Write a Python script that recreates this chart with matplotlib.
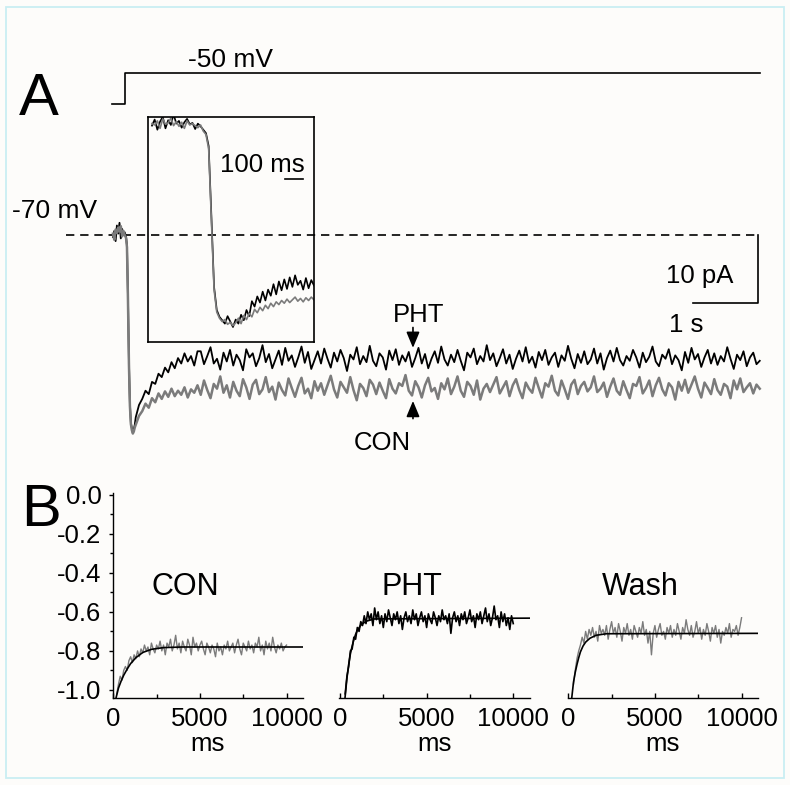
import numpy as np
import matplotlib
matplotlib.use('Agg')
import matplotlib.pyplot as plt
from matplotlib.patches import Rectangle
from matplotlib.ticker import MultipleLocator, FormatStrFormatter

plt.rcParams['font.family'] = ['Liberation Sans', 'DejaVu Sans']
plt.rcParams['axes.unicode_minus'] = False

W, H = 790, 785
BG = '#fdfcfa'
GRAY = '#7b7b7b'

# ======================= DATA =======================
# ---- Panel A: whole-cell current (pA) vs time (ms) ----
a_head_t = [0, 20, 40, 60, 80, 100, 120, 140, 160, 180, 200, 215, 230, 245, 260,
            275, 290, 305, 320, 335,
            350, 400, 450, 500, 550, 600, 650, 700, 750, 800,
            850, 900, 950, 1000, 1050, 1100, 1150, 1200, 1250, 1300]
a_tail_start, a_tail_step = 1350, 50

pht_head = [-0.3, 0.6, -0.9, 1.4, 0.2, 1.8, -0.5, 0.9, 0.1, 0.4, -0.2, -1.5, -9.0, -18.5, -24.8,
            -27.6, -28.4, -28.9, -28.6, -27.9,
            -26.8, -25.0, -24.1, -22.9, -23.4, -21.6, -21.9, -20.4, -20.9, -19.5,
            -20.2, -18.7, -19.6, -18.1, -18.9, -17.4, -18.6, -17.8, -19.2, -17.1]
pht_tail = [
    -17.1, -19.0, -17.8, -16.5, -18.9, -18.2, -19.8, -17.3, -18.6, -16.9,
    -19.2, -17.6, -18.4, -19.9, -16.8, -18.0, -17.4, -19.3, -18.1, -16.2,
    -18.7, -17.5, -19.6, -18.3, -17.0, -19.1, -16.6, -18.5, -17.7, -19.4,
    -18.0, -16.4, -18.8, -17.2, -19.7, -18.4, -17.1, -18.9, -16.7, -18.2,
    -19.5, -17.3, -18.6, -16.9, -18.1, -20.0, -17.6, -18.3, -16.5, -19.0,
    -17.8, -18.7, -16.3, -18.5, -19.3, -17.4, -18.0, -19.8, -17.0, -18.4,
    -16.8, -19.1, -17.7, -18.6, -17.2, -19.4, -18.1, -16.6, -18.9, -17.5,
    -19.6, -18.2, -17.1, -18.8, -16.4, -18.3, -19.2, -17.6, -18.7, -16.9,
    -18.5, -19.9, -17.3, -18.0, -16.7, -19.0, -17.8, -18.6, -16.2, -18.4,
    -17.4, -19.3, -18.1, -16.8, -18.9, -17.6, -19.7, -18.2, -17.0, -18.6,
    -16.5, -18.8, -17.9, -19.5, -17.2, -18.4, -16.9, -19.1, -18.0, -17.3,
    -19.4, -17.7, -18.5, -16.3, -18.2, -19.6, -17.5, -18.8, -17.1, -19.0,
    -18.3, -16.7, -18.9, -17.4, -19.8, -18.1, -17.0, -18.6, -16.6, -18.4,
    -19.2, -17.8, -18.5, -16.9, -18.0, -19.5, -17.3, -18.7, -17.9, -16.4,
    -18.6, -19.3, -17.6, -18.2, -16.8, -19.0, -17.7, -18.4, -19.9, -17.2,
    -18.8, -16.6, -18.3, -17.5, -19.4, -18.0, -16.9, -18.9, -17.4, -19.1,
    -17.8, -18.6, -16.5, -18.2, -19.7, -17.6, -18.4, -17.1, -19.3, -18.0,
    -17.3, -19.0, -18.5]

con_head = [0.2, -0.7, 0.8, 0.3, 1.1, 0.5, 1.3, -0.2, 0.6, 0.0, -0.4, -1.8, -9.4, -18.9, -25.1,
            -27.8, -28.7, -29.2, -28.9, -28.3,
            -27.9, -26.6, -25.9, -24.8, -25.4, -24.0, -24.6, -23.3, -24.1, -23.0,
            -23.8, -22.6, -23.7, -22.9, -23.5, -22.4, -23.9, -22.7, -23.2, -22.1]
con_tail = [
    -23.5, -21.4, -22.8, -24.0, -21.9, -22.6, -20.8, -23.2, -22.1, -23.9,
    -21.6, -22.9, -23.7, -21.2, -22.4, -24.1, -22.0, -21.3, -23.4, -22.7,
    -20.9, -23.1, -22.3, -24.2, -21.7, -22.8, -23.6, -21.1, -22.5, -23.8,
    -22.2, -21.0, -23.3, -22.6, -24.0, -21.5, -22.9, -21.8, -23.5, -22.1,
    -20.7, -22.7, -23.9, -21.6, -22.4, -23.2, -20.9, -22.8, -24.3, -21.9,
    -22.5, -23.7, -21.3, -22.0, -23.4, -21.7, -22.9, -24.0, -21.2, -22.6,
    -23.3, -21.8, -22.2, -20.6, -22.9, -23.6, -21.5, -22.4, -23.9, -22.1,
    -21.0, -23.0, -22.5, -24.1, -21.8, -22.7, -21.1, -23.4, -22.3, -20.8,
    -22.9, -23.8, -21.6, -22.2, -23.5, -21.4, -24.2, -22.6, -21.9, -23.1,
    -22.0, -20.9, -23.3, -22.4, -21.5, -23.7, -22.1, -21.2, -22.8, -24.0,
    -21.7, -22.6, -23.2, -21.0, -22.5, -23.9, -21.8, -22.3, -20.7, -22.9,
    -23.6, -21.4, -22.7, -24.1, -22.0, -21.3, -23.4, -22.2, -21.6, -23.0,
    -22.4, -20.8, -23.1, -22.6, -21.7, -23.8, -22.3, -21.1, -22.9, -23.5,
    -21.5, -22.8, -24.0, -21.9, -22.2, -20.9, -23.3, -22.5, -21.4, -23.7,
    -22.1, -21.0, -22.7, -23.6, -21.8, -22.4, -24.2, -21.6, -22.9, -21.3,
    -23.2, -22.0, -20.8, -22.6, -23.9, -21.7, -22.5, -23.4, -21.2, -22.8,
    -23.5, -21.9, -22.3, -24.0, -21.4, -22.7, -21.1, -23.1, -22.4, -21.8,
    -23.3, -22.0, -22.6]

# voltage protocol (mV)
v_t = [-15, 185, 185, 9955]
v_mV = [-70, -70, -50, -50]

# inset (expanded onset), ms and pA
inset_t0, inset_step, inset_t1 = -150, 15, 750
inset_pht = [0.2, 1.1, -0.4, 0.8, 1.5, -0.2, 1.0, 0.3, 1.9, 0.5, 0.9, -0.1, 0.7, 1.2, 0.4,
             0.6, -0.3, 0.5, 0.1, -0.4, -0.9, -2.8, -13.0, -23.5, -26.9, -27.9, -28.4, -28.9,
             -27.8, -28.6, -29.4, -28.3, -28.9, -27.6, -28.4, -26.9, -27.8, -25.6, -26.4,
             -24.9, -25.8, -24.2, -25.5, -23.9, -24.8, -23.1, -24.6, -22.7, -24.0, -22.4,
             -23.8, -22.1, -23.5, -21.8, -23.2, -22.6, -23.9, -22.2, -23.7, -22.5, -23.3]
inset_con = [0.5, 0.3, 0.9, -0.2, 1.2, 0.4, 0.6, 1.3, 0.2, 0.8, 0.1, 0.7, -0.2, 0.9, 0.3,
             0.5, 0.2, -0.1, 0.3, -0.6, -1.1, -3.2, -13.6, -23.9, -27.2, -28.1, -28.6, -28.3,
             -29.0, -28.7, -29.2, -28.8, -28.1, -28.9, -27.7, -28.3, -27.4, -27.9, -26.8,
             -27.3, -26.5, -27.0, -26.2, -26.7, -25.9, -26.4, -25.7, -26.1, -25.5, -25.9,
             -25.3, -25.8, -25.4, -25.0, -25.6, -25.2, -25.7, -25.1, -25.5, -25.0, -25.4]

scale_t_ms, scale_pA, inset_scale_ms = 1000, 10, 100

# ---- Panel B: normalized current vs time (ms) ----
b_titles = ['CON', 'PHT', 'Wash']
b_step = 100
con_b_t0 = 200
con_b = [-1.02, -0.97, -0.93, -0.95, -0.90, -0.88, -0.90, -0.85, -0.83, -0.86, -0.82, -0.84,
         -0.80, -0.83, -0.79, -0.81, -0.77, -0.80, -0.78, -0.82, -0.76, -0.79, -0.81, -0.77,
         -0.79, -0.75, -0.80, -0.77, -0.82, -0.76, -0.78, -0.74, -0.80, -0.77,
         -0.72, -0.79, -0.76, -0.81, -0.75, -0.78, -0.80, -0.74, -0.77, -0.82,
         -0.73, -0.78, -0.76, -0.80, -0.77, -0.75, -0.79, -0.82, -0.76, -0.78,
         -0.81, -0.77, -0.79, -0.83, -0.76, -0.80, -0.78, -0.82, -0.77, -0.79,
         -0.75, -0.80, -0.78, -0.76, -0.81, -0.77, -0.74, -0.79, -0.82, -0.76,
         -0.78, -0.80, -0.75, -0.79, -0.77, -0.81, -0.76, -0.78, -0.73, -0.80,
         -0.77, -0.82, -0.75, -0.79, -0.76, -0.80, -0.73, -0.78, -0.81, -0.77,
         -0.79, -0.76, -0.80, -0.78, -0.77]
con_fit_t = [160, 300, 450, 600, 800, 1000, 1300, 1700, 2200, 2900, 4000, 11000]
con_fit_v = [-1.04, -0.99, -0.955, -0.925, -0.893, -0.865, -0.835, -0.808, -0.792, -0.783, -0.780, -0.780]

pht_b_t0 = 300
pht_b = [-1.02, -0.93, -0.88, -0.80, -0.79, -0.73, -0.74, -0.68, -0.70, -0.65, -0.67, -0.62,
         -0.66, -0.60, -0.64, -0.61, -0.67, -0.58,
         -0.64, -0.60, -0.66, -0.62, -0.68, -0.61, -0.65, -0.59, -0.63, -0.67,
         -0.61, -0.64, -0.60, -0.66, -0.62, -0.69, -0.63, -0.60, -0.65, -0.62,
         -0.66, -0.59, -0.64, -0.61, -0.67, -0.63, -0.60, -0.65, -0.62, -0.68,
         -0.61, -0.64, -0.66, -0.60, -0.63, -0.67, -0.62, -0.65, -0.59, -0.64,
         -0.62, -0.66, -0.61, -0.71, -0.63, -0.60, -0.65, -0.62, -0.67, -0.61,
         -0.64, -0.60, -0.66, -0.63, -0.59, -0.65, -0.62, -0.68, -0.61, -0.64,
         -0.60, -0.66, -0.62, -0.58, -0.65, -0.61, -0.67, -0.63, -0.57, -0.64,
         -0.62, -0.68, -0.60, -0.65, -0.61, -0.67, -0.63, -0.69, -0.62, -0.66]
pht_fit_t = [290, 400, 500, 600, 700, 800, 900, 1000, 1200, 1500, 2000, 11000]
pht_fit_v = [-1.04, -0.94, -0.87, -0.815, -0.775, -0.742, -0.715, -0.695, -0.668, -0.648, -0.636, -0.632]

wash_b_t0 = 300
wash_b = [-0.97, -0.90, -0.84, -0.80, -0.77, -0.73, -0.76, -0.70, -0.74, -0.69, -0.72, -0.68,
          -0.73, -0.70, -0.75, -0.67, -0.71, -0.69,
          -0.72, -0.67, -0.74, -0.69, -0.65, -0.71, -0.68, -0.73, -0.66, -0.70,
          -0.75, -0.68, -0.71, -0.66, -0.72, -0.69, -0.74, -0.67, -0.70, -0.73,
          -0.68, -0.71, -0.65, -0.72, -0.69, -0.76, -0.70, -0.82, -0.71, -0.67,
          -0.73, -0.69, -0.66, -0.72, -0.70, -0.74, -0.68, -0.71, -0.67, -0.73,
          -0.69, -0.72, -0.66, -0.70, -0.74, -0.68, -0.71, -0.64, -0.69, -0.72,
          -0.67, -0.73, -0.70, -0.65, -0.71, -0.68, -0.74, -0.69, -0.72, -0.66,
          -0.70, -0.75, -0.68, -0.71, -0.67, -0.73, -0.69, -0.76, -0.70, -0.72,
          -0.68, -0.71, -0.66, -0.73, -0.69, -0.70, -0.67, -0.72, -0.68, -0.63]
wash_fit_t = [200, 300, 400, 500, 600, 700, 850, 1000, 1250, 1600, 2200, 11000]
wash_fit_v = [-1.04, -0.96, -0.91, -0.87, -0.835, -0.805, -0.775, -0.755, -0.735, -0.72, -0.712, -0.71]

b_yticks = [-1.0, -0.8, -0.6, -0.4, -0.2, 0.0]
b_xticks = [0, 5000, 10000]

# ======================= FIGURE =======================
fig = plt.figure(figsize=(W / 100, H / 100), dpi=100, facecolor=BG)


def fx(px):
    return px / W


def fy(py):
    return 1 - py / H


fig.add_artist(Rectangle((fx(6), fy(778)), fx(778), 771 / H, transform=fig.transFigure,
                         fill=False, edgecolor='#c9eef3', lw=1.3))

# ---- panel A main axes (full-figure, data units ms / pA) ----
X0, PPMS, Y0, PPPA = 113, 0.065, 235, 6.8
axA = fig.add_axes([0, 0, 1, 1])
axA.set_xlim(-X0 / PPMS, (W - X0) / PPMS)
axA.set_ylim((Y0 - H) / PPPA, Y0 / PPPA)
axA.axis('off')
axA.patch.set_alpha(0)

t_tail = np.arange(len(pht_tail)) * a_tail_step + a_tail_start
t_all = np.concatenate([a_head_t, t_tail])
pht_all = np.concatenate([pht_head, pht_tail])
con_all = np.concatenate([con_head, con_tail])
axA.plot(t_all, pht_all, color='black', lw=1.3, zorder=3)
axA.plot(t_all, con_all, color=GRAY, lw=1.8, zorder=4)

# baseline dashed line + scale bars
t_end = 9925
axA.plot([-720, t_end], [0, 0], color='black', lw=1.2, ls=(0, (5, 3.5)), zorder=2)
axA.plot([t_end, t_end, t_end - scale_t_ms], [0, -scale_pA, -scale_pA], color='black', lw=1.2)

# arrows
t_arrow = 4615
arr = dict(arrowstyle='-|>,head_length=0.6,head_width=0.25', color='black',
           lw=1.2, shrinkA=0, shrinkB=0, mutation_scale=16)
axA.annotate('', xy=(t_arrow, -16.6), xytext=(t_arrow, -13.6), arrowprops=arr, zorder=6)
axA.annotate('', xy=(t_arrow, -24.4), xytext=(t_arrow, -27.0), arrowprops=arr, zorder=6)

# voltage protocol axes
V_Y70, PPMV = 104, 1.55
axV = fig.add_axes([0, 0, 1, 1])
axV.set_xlim(-X0 / PPMS, (W - X0) / PPMS)
axV.set_ylim(-70 - (H - V_Y70) / PPMV, -70 + V_Y70 / PPMV)
axV.axis('off')
axV.patch.set_alpha(0)
axV.plot(v_t, v_mV, color='black', lw=1.2)

# inset
axI = fig.add_axes([fx(148), fy(342), 166 / W, 225 / H])
axI.set_xlim(-172, 750)
axI.set_ylim(-31.6, 1.47)
axI.set_xticks([])
axI.set_yticks([])
axI.patch.set_alpha(0)
for s in axI.spines.values():
    s.set_linewidth(1.2)
t_in = np.arange(inset_t0, inset_t1 + 1, inset_step)
axI.plot(t_in, inset_pht, color='black', lw=1.2)
axI.plot(t_in, inset_con, color=GRAY, lw=1.2)
axI.plot([589, 589 + inset_scale_ms], [-7.6, -7.6], color='black', lw=1.2)

# panel A texts
fs = 18.5
fig.text(fx(19), fy(115), 'A', fontsize=43, va='baseline', ha='left')
fig.text(fx(188), fy(67), '-50 mV', fontsize=19, va='baseline', ha='left')
fig.text(fx(12), fy(218), '-70 mV', fontsize=19, va='baseline', ha='left')
fig.text(fx(220), fy(172), '100 ms', fontsize=fs, va='baseline', ha='left')
fig.text(fx(666), fy(283), '10 pA', fontsize=fs, va='baseline', ha='left')
fig.text(fx(669), fy(332), '1 s', fontsize=fs, va='baseline', ha='left')
fig.text(fx(393), fy(322), 'PHT', fontsize=fs, va='baseline', ha='left')
fig.text(fx(354), fy(450), 'CON', fontsize=fs, va='baseline', ha='left')

# ---- panel B ----
fig.text(fx(21), fy(526), 'B', fontsize=43, va='baseline', ha='left')
b_lefts = [112.7, 339.4, 567.7]
b_data = [(con_b_t0, con_b, GRAY, con_fit_t, con_fit_v),
          (pht_b_t0, pht_b, 'black', pht_fit_t, pht_fit_v),
          (wash_b_t0, wash_b, GRAY, wash_fit_t, wash_fit_v)]
title_left = [151.7, 381.7, 601.7]
for i, (left, title, (t0, vals, col, ft, fv)) in enumerate(zip(b_lefts, b_titles, b_data)):
    ax = fig.add_axes([fx(left), fy(698.3), 190.3 / W, 205 / H])
    ax.patch.set_alpha(0)
    tt = t0 + np.arange(len(vals)) * b_step
    if col == 'black':
        ax.plot(ft, fv, color='black', lw=1.2, zorder=2)
        ax.plot(tt, vals, color='black', lw=1.2, zorder=3)
    else:
        ax.plot(tt, vals, color=col, lw=1.0, zorder=2)
        ax.plot(ft, fv, color='black', lw=1.2, zorder=3)
    ax.set_xlim(-35, 10950)
    ax.set_ylim(-1.043, 0.008)
    ax.spines['top'].set_visible(False)
    ax.spines['right'].set_visible(False)
    ax.spines['bottom'].set_linewidth(1.0)
    ax.set_xticks(b_xticks)
    ax.xaxis.set_minor_locator(MultipleLocator(2500))
    ax.tick_params(axis='x', which='major', direction='in', length=3.5, width=1.0,
                   labelsize=fs, pad=6)
    ax.tick_params(axis='x', which='minor', direction='in', length=3, width=1.0)
    ax.set_xlabel('ms', fontsize=fs, labelpad=1)
    if i == 0:
        ax.spines['left'].set_linewidth(1.0)
        ax.set_yticks(b_yticks)
        ax.yaxis.set_major_formatter(FormatStrFormatter('%.1f'))
        ax.yaxis.set_minor_locator(MultipleLocator(0.1))
        ax.tick_params(axis='y', which='major', direction='out', length=3, width=1.0,
                       labelsize=fs, pad=5)
        ax.tick_params(axis='y', which='minor', direction='out', length=2, width=1.0)
    else:
        ax.spines['left'].set_visible(False)
        ax.set_yticks([])
    fig.text(fx(title_left[i]), fy(595), title, fontsize=22, va='baseline', ha='left')

fig.savefig('out.png', dpi=100, facecolor=BG)
